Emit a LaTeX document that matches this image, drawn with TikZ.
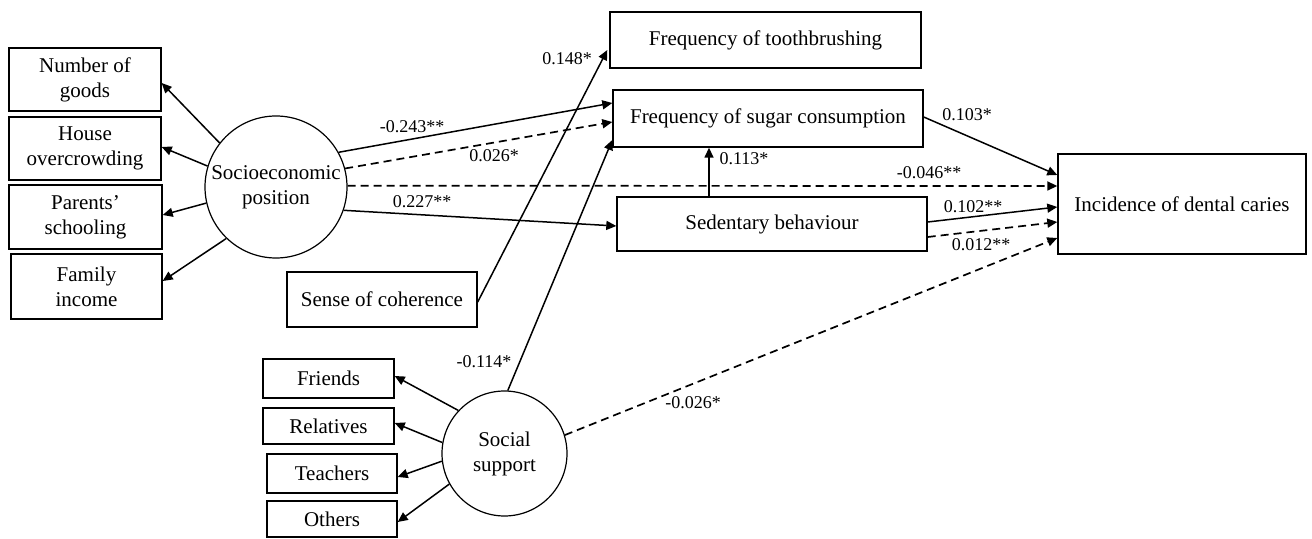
\documentclass[tikz,border=0pt]{standalone}
\usepackage{fontspec}
\setmainfont{Liberation Serif}
\usetikzlibrary{arrows.meta,calc}
\begin{document}
\begin{tikzpicture}[x=0.5pt,y=-0.5pt,
  box/.style={draw,line width=0.7pt,inner sep=0pt,align=center,font=\fontsize{10.5}{12.5}\selectfont},
  circ/.style={draw,circle,line width=0.6pt,inner sep=0pt,align=center,font=\fontsize{10.5}{12.5}\selectfont},
  arr/.style={line width=0.75pt,-{Triangle[length=5pt,width=4.5pt]}},
  dsh/.style={line width=0.85pt,dash pattern=on 4pt off 2.5pt},
  lab/.style={font=\fontsize{9}{10}\selectfont,inner sep=0pt}]
\useasboundingbox (0,0) rectangle (1312,539);
% left indicator boxes
\node[box,minimum width=76pt,minimum height=31.5pt] (ng) at (85,79.5) {Number of\\goods};
\node[box,minimum width=76pt,minimum height=31.5pt] (ho) at (85,148.5) {House\\overcrowding};
\node[box,minimum width=76.5pt,minimum height=32pt] (ps) at (85.5,217) {Parents'\\schooling};
\node[box,minimum width=75.5pt,minimum height=32.5pt] (fi) at (86.5,286.5) {Family\\income};
\node[circ,minimum size=71pt] (sep) at (276,187) {Socioeconomic\\position};
% middle
\node[box,minimum width=95pt,minimum height=27.5pt] (soc) at (382,299.5) {Sense of coherence};
\node[box,minimum width=155.5pt,minimum height=28pt] (tb) at (765.5,40) {Frequency of toothbrushing};
\node[box,minimum width=155pt,minimum height=28.5pt] (sug) at (768,118.5) {Frequency of sugar consumption};
\node[box,minimum width=155pt,minimum height=27pt] (sed) at (772,224) {Sedentary behaviour};
\node[box,minimum width=124pt,minimum height=50pt] (inc) at (1182,204) {Incidence of dental caries};
% social support
\node[box,minimum width=65.5pt,minimum height=19.5pt] (fr) at (328.5,378.5) {Friends};
\node[box,minimum width=65.5pt,minimum height=18pt] (rel) at (328.5,426) {Relatives};
\node[box,minimum width=65pt,minimum height=19.5pt] (tea) at (332,473.5) {Teachers};
\node[box,minimum width=65pt,minimum height=18pt] (oth) at (332,519) {Others};
\node[circ,minimum size=62.5pt] (ss) at (504.5,453.5) {Social\\support};
% SEP indicators
\draw[arr] (sep.142.5) -- ($(ng.east)+(0,3.5)$);
\draw[arr] (sep.163.8) -- ($(ho.east)+(0,-1.5)$);
\draw[arr] (sep.193) -- ($(ps.east)+(0,-2)$);
\draw[arr] (sep.226) -- ($(fi.east)+(0,-5.5)$);
% SS indicators
\draw[arr] (ss.137.5) -- ($(fr.east)+(0,-2.5)$);
\draw[arr] (ss.170.6) -- ($(rel.east)+(0,-3)$);
\draw[arr] (ss.187.6) -- ($(tea.east)+(0,3.5)$);
\draw[arr] (ss.209.6) -- ($(oth.east)+(0,3)$);
% SEP paths
\draw[arr] (sep.29) -- ($(sug.west)+(0,-15.5)$);
\draw[arr,dsh] (sep.15.4) -- ($(sug.west)+(0,3.5)$);
\draw[arr,dsh] (sep.1.5) -- ($(inc.west)+(0,-18)$);
\draw[arr] (sep.-19) -- ($(sed.west)+(0,2)$);
% sense of coherence and social support
\draw[arr] ($(soc.east)+(0,2.5)$) -- ($(tb.west)+(-2,10)$);
\draw[arr] (ss.87) -- ($(sug.west)+(0,21.5)$);
\draw[arr,dsh] (ss.17) -- ($(inc.west)+(0,34)$);
% sedentary and sugar
\coordinate (sedup) at ($(sed.north)+(-63,0)$);
\draw[arr] (sedup) -- (sedup |- sug.south);
\draw[arr] ($(sug.east)+(0,-1.5)$) -- ($(inc.west)+(0,-29)$);
\draw[arr] ($(sed.east)+(0,-2)$) -- ($(inc.west)+(0,3)$);
\draw[arr,dsh] ($(sed.east)+(0,13)$) -- ($(inc.west)+(0,18)$);
% labels
\node[lab] (l1) at (412,127) {-0.243**};
\node[lab] (l2) at (494,156) {0.026*};
\node[lab] (l3) at (422,202) {0.227**};
\node[lab] (l4) at (567,59) {0.148*};
\node[lab] (l5) at (744,159) {0.113*};
\node[lab] (l6) at (967,115) {0.103*};
\node[lab] (l7) at (929,173) {-0.046**};
\node[lab] (l8) at (973,207) {0.102**};
\node[lab] (l9) at (981,245) {0.012**};
\node[lab] (l10) at (484,362) {-0.114*};
\node[lab] (l11) at (693,403) {-0.026*};
\end{tikzpicture}
\end{document}
